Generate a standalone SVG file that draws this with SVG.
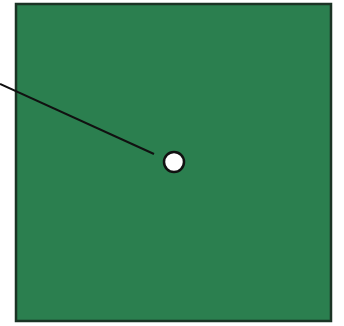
<svg xmlns="http://www.w3.org/2000/svg" width="344" height="326" viewBox="0 0 344 326">
<style>
.board{fill:#2b7f4f;stroke:#1b3324;stroke-width:2.5}
.wire{stroke:#111;stroke-width:2;fill:none}
.hole{fill:#fff;stroke:#111;stroke-width:2.5}
</style>
<rect width="344" height="326" fill="#fff"/>
<g id="board"><rect class="board" x="16" y="4" width="315" height="317"/></g>
<g id="connectors"><line class="wire" x1="0" y1="84" x2="154" y2="154"/></g>
<g id="hole"><circle class="hole" cx="174" cy="162" r="10"/></g>
</svg>
